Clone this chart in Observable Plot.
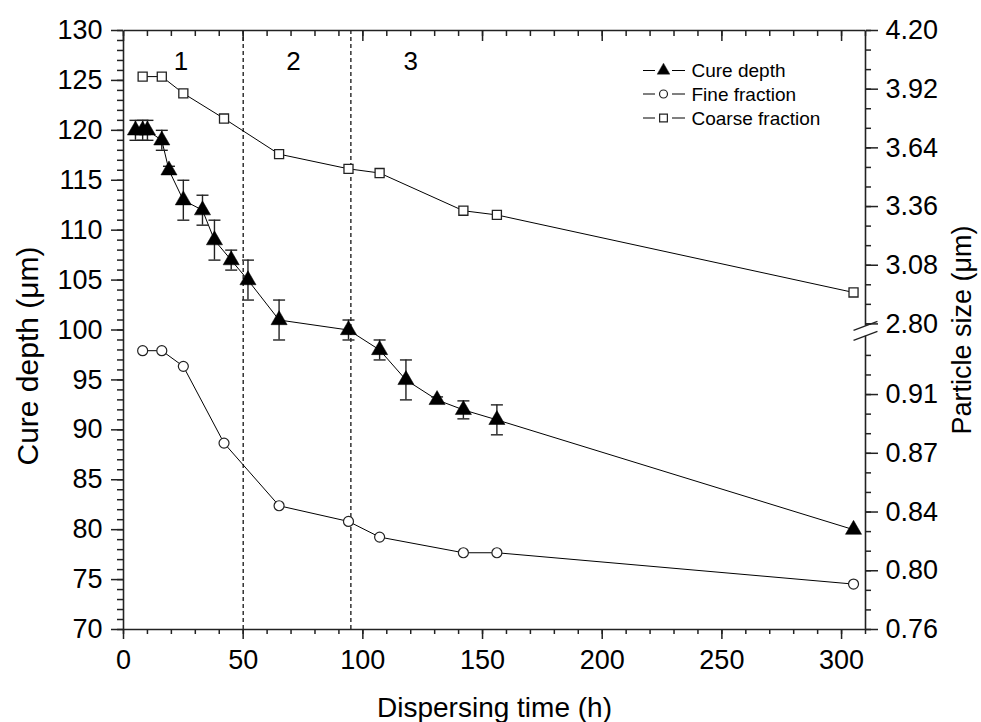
<!DOCTYPE html>
<html><head><meta charset="utf-8">
<script src="https://cdn.jsdelivr.net/npm/d3@7"></script>
<script src="https://cdn.jsdelivr.net/npm/@observablehq/plot@0.6"></script>
<style>body{margin:0;background:#fff;} #chart{width:981px;height:722px;}</style>
</head><body><div id="chart"></div>
<script>
// ---- data ----
const cureTime  = [5, 8, 10, 16, 19, 25, 33, 38, 45, 52, 65, 94, 107, 118, 131, 142, 156, 305];
const cureDepth = [120, 120, 120, 119, 116, 113, 112, 109, 107, 105, 101, 100, 98, 95, 93, 92, 91, 80];
const cureErr   = [1, 1, 1, 1, 0.4, 2, 1.5, 2, 1, 2, 2, 1, 1, 2, 0.3, 0.9, 1.5, 0];
const sizeTime  = [8, 16, 25, 42, 65, 94, 107, 142, 156, 305];
const fineSize  = [0.938, 0.938, 0.928, 0.879, 0.839, 0.829, 0.819, 0.809, 0.809, 0.789];
const coarseSize= [3.98, 3.98, 3.90, 3.78, 3.61, 3.54, 3.52, 3.34, 3.32, 2.95];
const regionBounds = [50, 95];
const regionLabels = ["1", "2", "3"];
const regionLabelX = [24, 71, 120];
const xTicks = [0, 50, 100, 150, 200, 250, 300];
const leftTicks = [70, 75, 80, 85, 90, 95, 100, 105, 110, 115, 120, 125, 130];
const rightTickValues = [0.76, 0.7975, 0.835, 0.8725, 0.91, 2.80, 3.08, 3.36, 3.64, 3.92, 4.20];
const rightTickLabels = ["0.76", "0.80", "0.84", "0.87", "0.91", "2.80", "3.08", "3.36", "3.64", "3.92", "4.20"];
const legendNames = ["Cure depth", "Fine fraction", "Coarse fraction"];

// ---- broken right axis: particle size -> cure-depth units ----
const psz = d3.scaleLinear().domain([0.76, 0.95, 2.80, 4.20]).range([70, 99.81, 100.61, 130]);

const cure = cureTime.map((t, i) => ({t, d: cureDepth[i], e: cureErr[i]}));
const fine = sizeTime.map((t, i) => ({t, v: psz(fineSize[i])}));
const coarse = sizeTime.map((t, i) => ({t, v: psz(coarseSize[i])}));
const errs = cure.filter(d => d.e > 0);
const caps = errs.flatMap(d => [{t: d.t, y: d.d + d.e}, {t: d.t, y: d.d - d.e}]);
const capSymbol = {draw(ctx) { ctx.moveTo(-6, 0); ctx.lineTo(6, 0); }};

const rightPos = rightTickValues.map(psz);
const rightMap = new Map(rightPos.map((p, i) => [p, rightTickLabels[i]]));
const rightMinor = [...d3.range(0, 15).map(i => psz(0.76 + i * 0.0125)),
                    ...d3.range(0, 16).map(i => psz(2.80 + i * 0.28 / 3))];

const AX = "#222";
const frameLines = [
  {x1: 0, x2: 310, y1: 70, y2: 70},
  {x1: 0, x2: 310, y1: 130, y2: 130},
  {x1: 0, x2: 0, y1: 70, y2: 130},
  {x1: 310, x2: 310, y1: 70, y2: 99.42},
  {x1: 310, x2: 310, y1: 100.42, y2: 130}
];
const breakMarks = [
  {x1: 305, x2: 315, y1: 99.97, y2: 100.87},
  {x1: 305, x2: 315, y1: 98.97, y2: 99.87}
];

const chart = Plot.plot({
  width: 981, height: 722,
  marginLeft: 123, marginRight: 116, marginTop: 30, marginBottom: 93,
  style: {fontFamily: '"Liberation Sans", Arial, sans-serif', fontSize: "27px", background: "white", color: "#000"},
  x: {domain: [0, 310]},
  y: {domain: [70, 130]},
  marks: [
    Plot.ruleX(regionBounds, {stroke: "#000", strokeWidth: 1.2, strokeDasharray: "4,3"}),
    // axes
    Plot.axisX({anchor: "bottom", ticks: xTicks, tickSize: 10, tickPadding: 10, label: null, stroke: AX, strokeWidth: 1.5, fill: "#000"}),
    Plot.axisX({anchor: "bottom", ticks: d3.range(0, 311, 10), tickSize: 5, tickFormat: () => "", label: null, stroke: AX, strokeWidth: 1.5}),
    Plot.axisX({anchor: "top", ticks: xTicks, tickSize: -10, tickFormat: () => "", label: null, stroke: AX, strokeWidth: 1.5}),
    Plot.axisX({anchor: "top", ticks: d3.range(0, 311, 10), tickSize: -5, tickFormat: () => "", label: null, stroke: AX, strokeWidth: 1.5}),
    Plot.axisY({anchor: "left", ticks: leftTicks, tickSize: 12, tickPadding: 9, label: null, stroke: AX, strokeWidth: 1.5, fill: "#000"}),
    Plot.axisY({anchor: "left", ticks: d3.range(70, 131, 1), tickSize: 6, tickFormat: () => "", label: null, stroke: AX, strokeWidth: 1.5}),
    Plot.axisY({anchor: "right", ticks: rightPos, tickSize: 12, tickPadding: 8, tickFormat: d => rightMap.get(d), label: null, stroke: AX, strokeWidth: 1.5, fill: "#000"}),
    Plot.axisY({anchor: "right", ticks: rightMinor, tickSize: 5, tickFormat: () => "", label: null, stroke: AX, strokeWidth: 1.5}),
    Plot.link(frameLines, {x1: "x1", x2: "x2", y1: "y1", y2: "y2", stroke: AX, strokeWidth: 1.6}),
    Plot.link(breakMarks, {x1: "x1", x2: "x2", y1: "y1", y2: "y2", stroke: AX, strokeWidth: 1.3}),
    // axis titles
    Plot.text(["Dispersing time (h)"], {frameAnchor: "bottom", textAnchor: "middle", lineAnchor: "bottom", dy: 87, fontSize: 28, fill: "#000"}),
    Plot.text(["Cure depth (\u03bcm)"], {frameAnchor: "left", textAnchor: "middle", lineAnchor: "middle", rotate: -90, dx: -95, dy: 26, fontSize: 30, fill: "#000"}),
    Plot.text(["Particle size (\u03bcm)"], {frameAnchor: "right", textAnchor: "middle", lineAnchor: "middle", rotate: -90, dx: 97, dy: 0, fontSize: 27, fill: "#000"}),
    // region labels
    Plot.text(regionLabels, {x: (d, i) => regionLabelX[i], y: 126.9, text: d => d, fontSize: 26, fill: "#000"}),
    // series lines
    Plot.line(coarse, {x: "t", y: "v", stroke: "#000", strokeWidth: 1}),
    Plot.line(fine, {x: "t", y: "v", stroke: "#000", strokeWidth: 1}),
    Plot.line(cure, {x: "t", y: "d", stroke: "#000", strokeWidth: 1}),
    // error bars
    Plot.ruleX(errs, {x: "t", y1: d => d.d - d.e, y2: d => d.d + d.e, stroke: "#222", strokeWidth: 1.4}),
    Plot.dot(caps, {x: "t", y: "y", symbol: capSymbol, r: 3, stroke: "#222", fill: "none", strokeWidth: 1.4}),
    // markers
    Plot.dot(coarse, {x: "t", y: "v", symbol: "square", r: 5.1, fill: "white", stroke: "#222", strokeWidth: 1.3}),
    Plot.dot(fine, {x: "t", y: "v", symbol: "circle", r: 5, fill: "white", stroke: "#222", strokeWidth: 1.2}),
    Plot.dot(cure, {x: "t", y: "d", symbol: "triangle", r: 6, fill: "#000", stroke: "#000", strokeWidth: 0.5})
  ]
});
document.getElementById("chart").appendChild(chart);

// legend
const svg = d3.select(chart);
const lg = svg.append("g").attr("font-family", '"Liberation Sans", Arial, sans-serif').attr("font-size", 19).attr("text-anchor", "start");
const rowY = [70.5, 94, 118];
const syms = [d3.symbolTriangle, d3.symbolCircle, d3.symbolSquare];
const sizes = [70, 50, 60];
legendNames.forEach((name, i) => {
  const y = rowY[i];
  lg.append("line").attr("x1", 643).attr("x2", 655).attr("y1", y).attr("y2", y).attr("stroke", "#000").attr("stroke-width", 1);
  lg.append("line").attr("x1", 672).attr("x2", 685).attr("y1", y).attr("y2", y).attr("stroke", "#000").attr("stroke-width", 1);
  lg.append("path").attr("d", d3.symbol(syms[i], sizes[i])()).attr("transform", `translate(663.5,${y})`)
    .attr("fill", i === 0 ? "#000" : "white").attr("stroke", "#222").attr("stroke-width", i === 0 ? 0.5 : 1.2);
  lg.append("text").attr("x", 691.5).attr("y", y + 6.8).attr("fill", "#000").attr("text-anchor", "start").text(name);
});
</script></body></html>
